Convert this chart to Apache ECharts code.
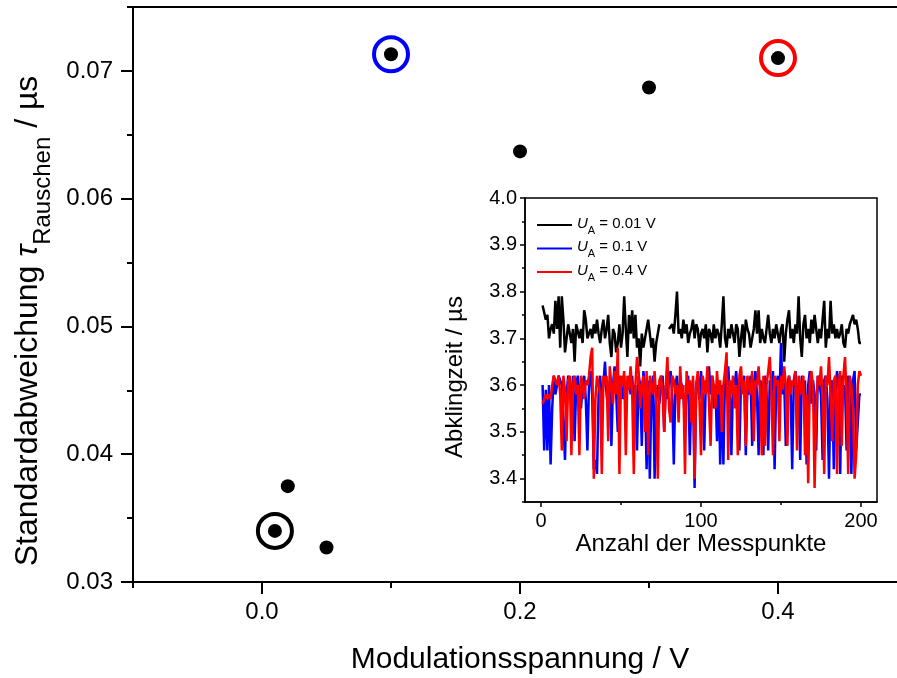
<!DOCTYPE html>
<html>
<head>
<meta charset="utf-8">
<script src="https://cdn.jsdelivr.net/npm/echarts@6/dist/echarts.min.js"></script>
<style>html,body{margin:0;padding:0;background:#fff}#c{width:897px;height:678px}</style>
</head>
<body>
<div id="c"></div>
<script>
// ---- Main plot data ----
const modVoltage = [0.01, 0.02, 0.05, 0.1, 0.2, 0.3, 0.4];
const stdDev = [0.0340, 0.0375, 0.0327, 0.0713, 0.0637, 0.0687, 0.0710];
const ringIndex = [0, 3, 6];
const mainXMajor = [0, 0.2, 0.4];
const mainXMinor = [-0.1, 0.1, 0.3, 0.5];
const mainYMajor = [0.03, 0.04, 0.05, 0.06, 0.07];
const mainYMinor = [0.035, 0.045, 0.055, 0.065, 0.075];

// ---- Inset data (decay time per measurement point, µs) ----
const insetNames = ['0.01', '0.1', '0.4'];
const black001 = [
3.77,3.77,3.74,3.75,3.70,3.72,3.73,3.71,3.78,3.72,
3.79,3.68,3.79,3.74,3.67,3.70,3.73,3.73,3.69,3.72,
3.65,3.73,3.73,3.70,3.72,3.69,3.76,3.74,3.70,3.71,
3.72,3.70,3.73,3.71,3.74,3.71,3.69,3.72,3.74,3.70,
3.72,3.75,3.69,3.66,3.72,3.71,3.67,3.69,3.73,3.68,
3.71,3.79,3.72,3.66,3.75,3.71,3.76,3.70,3.75,3.68,
3.70,3.64,3.71,3.68,3.70,3.72,3.74,3.71,3.68,3.70,
3.65,3.69,3.69,3.73,null,null,null,null,null,3.72,
3.72,3.73,3.71,3.75,3.80,3.71,3.72,3.70,3.74,3.71,
3.73,3.69,3.71,3.72,3.74,3.70,3.73,3.72,3.68,3.71,
3.72,3.70,3.73,3.67,3.72,3.71,3.69,3.73,3.70,3.72,
3.71,3.68,3.73,3.79,3.70,3.68,3.72,3.70,3.73,3.71,
3.69,3.73,3.72,3.66,3.70,3.73,3.68,3.74,3.72,3.71,
3.68,3.70,3.72,3.76,3.71,3.76,3.69,3.72,3.70,3.69,
3.72,3.75,3.71,3.69,3.72,3.70,3.73,3.71,3.69,3.72,
3.73,3.65,3.71,3.74,3.76,3.70,3.72,3.69,3.73,3.71,
3.79,3.70,3.66,3.73,3.75,3.70,3.72,3.69,3.74,3.71,
3.75,3.75,3.69,3.72,3.70,3.74,3.78,3.68,3.72,3.70,
3.78,3.71,3.73,3.70,3.72,3.70,3.71,3.73,3.69,3.68,
3.72,3.71,3.73,3.74,3.75,3.73,3.74,3.72,3.69,3.69];
const blue01 = [
3.60,3.46,3.59,3.46,3.60,3.43,3.55,3.62,3.58,3.60,
3.62,3.61,3.60,3.52,3.44,3.58,3.62,3.60,3.57,3.62,
3.48,3.60,3.62,3.58,3.55,3.60,3.62,3.57,3.46,3.60,
3.63,3.58,3.42,3.44,3.41,3.58,3.62,3.56,3.60,3.65,
3.58,3.55,3.61,3.47,3.60,3.64,3.58,3.50,3.62,3.59,
3.57,3.62,3.54,3.60,3.61,3.58,3.62,3.55,3.60,3.46,
3.62,3.60,3.47,3.63,3.59,3.42,3.61,3.40,3.58,3.62,
3.40,3.58,3.60,3.56,3.61,3.62,3.50,3.60,3.57,3.61,
3.63,3.58,3.43,3.60,3.62,3.55,3.61,3.60,3.58,3.52,
3.60,3.62,3.45,3.59,3.61,3.38,3.60,3.62,3.57,3.63,
3.58,3.46,3.61,3.60,3.64,3.58,3.62,3.55,3.60,3.48,
3.61,3.43,3.60,3.43,3.62,3.59,3.64,3.58,3.45,3.61,
3.60,3.63,3.57,3.46,3.61,3.59,3.62,3.45,3.60,3.58,
3.62,3.47,3.60,3.63,3.58,3.45,3.61,3.60,3.45,3.62,
3.58,3.46,3.61,3.59,3.63,3.42,3.60,3.62,3.57,3.69,
3.58,3.61,3.47,3.60,3.62,3.59,3.42,3.61,3.63,3.58,
3.60,3.44,3.62,3.58,3.61,3.43,3.60,3.63,3.56,3.61,
3.58,3.46,3.62,3.60,3.58,3.44,3.61,3.62,3.57,3.40,
3.60,3.61,3.42,3.58,3.63,3.60,3.41,3.62,3.58,3.60,
3.46,3.62,3.59,3.41,3.61,3.63,3.46,3.46,3.58,3.58];
const red04 = [
3.56,3.56,3.58,3.57,3.58,3.57,3.60,3.62,3.62,3.60,
3.62,3.58,3.46,3.62,3.59,3.48,3.61,3.62,3.45,3.60,
3.62,3.58,3.60,3.45,3.62,3.60,3.57,3.61,3.60,3.62,
3.66,3.68,3.40,3.57,3.62,3.60,3.58,3.41,3.62,3.60,
3.62,3.48,3.64,3.60,3.56,3.63,3.58,3.68,3.41,3.62,
3.60,3.63,3.45,3.62,3.59,3.64,3.58,3.41,3.60,3.66,
3.63,3.55,3.60,3.62,3.50,3.63,3.45,3.62,3.60,3.58,
3.63,3.57,3.40,3.61,3.62,3.58,3.50,3.60,3.66,3.55,
3.52,3.62,3.61,3.58,3.60,3.52,3.64,3.57,3.60,3.41,
3.63,3.58,3.61,3.52,3.62,3.40,3.60,3.63,3.57,3.45,
3.62,3.60,3.58,3.64,3.56,3.47,3.62,3.60,3.55,3.63,
3.58,3.61,3.50,3.60,3.63,3.67,3.44,3.61,3.58,3.62,
3.55,3.60,3.45,3.62,3.64,3.58,3.61,3.47,3.62,3.60,
3.58,3.63,3.48,3.61,3.60,3.64,3.58,3.45,3.62,3.47,
3.60,3.63,3.66,3.58,3.45,3.62,3.60,3.61,3.48,3.62,
3.59,3.64,3.60,3.47,3.62,3.58,3.61,3.60,3.63,3.46,
3.62,3.60,3.58,3.62,3.45,3.58,3.39,3.61,3.63,3.60,
3.38,3.55,3.62,3.60,3.64,3.57,3.41,3.62,3.60,3.66,
3.58,3.48,3.61,3.62,3.41,3.60,3.63,3.47,3.62,3.66,
3.58,3.41,3.62,3.60,3.55,3.40,3.45,3.60,3.63,3.62];
const insetXMajor = [0, 100, 200];
const insetXMinor = [50, 150];
const insetYMajor = [3.4, 3.5, 3.6, 3.7, 3.8, 3.9, 4.0];
const insetYMinor = [3.35, 3.45, 3.55, 3.65, 3.75, 3.85, 3.95];

const FONT = '"Liberation Sans", Arial, sans-serif';
const toPairs = arr => arr.map((v, k) => [k + 1, v]);
const insetColors = ['#000000', '#0000ff', '#ff0000'];
const ringColors = ['#000000', '#0000ff', '#ff0000'];

const chart = echarts.init(document.getElementById('c'), null, {renderer: 'canvas'});

function axisBase(extra) {
  return Object.assign({
    type: 'value',
    splitLine: {show: false},
    axisLine: {show: true, onZero: false, lineStyle: {color: '#000', width: 2}},
  }, extra);
}
const hiddenLine = {show: false, onZero: false};

const option = {
  animation: false,
  backgroundColor: '#fff',
  textStyle: {fontFamily: FONT, color: '#000'},
  grid: [
    {left: 133, top: 7, width: 774, height: 575, outerBoundsMode: 'none', containLabel: false,
      show: true, borderColor: '#000', borderWidth: 2, backgroundColor: 'transparent'},
    {left: 525, top: 198, width: 352, height: 304, outerBoundsMode: 'none', containLabel: false,
      show: true, borderColor: '#000', borderWidth: 1.5, backgroundColor: '#fff'}
  ],
  xAxis: [
    axisBase({gridIndex: 0, position: 'bottom', min: -0.1, max: 0.5,
      axisTick: {show: true, length: 12, lineStyle: {color: '#000', width: 2}, customValues: mainXMajor},
      axisLabel: {customValues: mainXMajor, formatter: v => v.toFixed(1), fontSize: 24, color: '#000', margin: 18, fontFamily: FONT},
      name: 'Modulationsspannung / V', nameLocation: 'middle', nameGap: 63,
      nameTextStyle: {fontSize: 30, color: '#000', fontFamily: FONT}}),
    axisBase({gridIndex: 0, position: 'bottom', min: -0.1, max: 0.5, axisLine: hiddenLine,
      axisTick: {show: true, length: 6, lineStyle: {color: '#000', width: 2}, customValues: mainXMinor},
      axisLabel: {show: false}}),
    axisBase({gridIndex: 1, position: 'bottom', min: -10, max: 210,
      axisLine: {show: true, onZero: false, lineStyle: {color: '#000', width: 1.5}},
      axisTick: {show: true, length: 5, lineStyle: {color: '#000', width: 1.5}, customValues: insetXMajor},
      axisLabel: {customValues: insetXMajor, fontSize: 20, color: '#000', margin: 9, fontFamily: FONT},
      name: 'Anzahl der Messpunkte', nameLocation: 'middle', nameGap: 30,
      nameTextStyle: {fontSize: 24, color: '#000', fontFamily: FONT}}),
    axisBase({gridIndex: 1, position: 'bottom', min: -10, max: 210, axisLine: hiddenLine,
      axisTick: {show: true, length: 3, lineStyle: {color: '#000', width: 1.5}, customValues: insetXMinor},
      axisLabel: {show: false}})
  ],
  yAxis: [
    axisBase({gridIndex: 0, position: 'left', min: 0.03, max: 0.075,
      axisTick: {show: true, length: 12, lineStyle: {color: '#000', width: 2}, customValues: mainYMajor},
      axisLabel: {customValues: mainYMajor, formatter: v => v.toFixed(2), fontSize: 24, color: '#000', margin: 20, fontFamily: FONT}}),
    axisBase({gridIndex: 0, position: 'left', min: 0.03, max: 0.075, axisLine: hiddenLine,
      axisTick: {show: true, length: 6, lineStyle: {color: '#000', width: 2}, customValues: mainYMinor},
      axisLabel: {show: false}}),
    axisBase({gridIndex: 1, position: 'left', min: 3.35, max: 4.0,
      axisLine: {show: true, onZero: false, lineStyle: {color: '#000', width: 1.5}},
      axisTick: {show: true, length: 5, lineStyle: {color: '#000', width: 1.5}, customValues: insetYMajor},
      axisLabel: {customValues: insetYMajor, formatter: v => v.toFixed(1), fontSize: 20, color: '#000', margin: 8, fontFamily: FONT}}),
    axisBase({gridIndex: 1, position: 'left', min: 3.35, max: 4.0, axisLine: hiddenLine,
      axisTick: {show: true, length: 3, lineStyle: {color: '#000', width: 1.5}, customValues: insetYMinor},
      axisLabel: {show: false}})
  ],
  legend: {
    orient: 'vertical', left: 532, top: 211, padding: 5, itemGap: 3.5,
    itemWidth: 35, itemHeight: 2, icon: 'rect',
    data: insetNames,
    formatter: name => '{u|U}{s|A}{t| = ' + name + ' V}',
    textStyle: {
      fontFamily: FONT, color: '#000', fontSize: 15,
      rich: {
        u: {fontFamily: FONT, fontSize: 15, fontStyle: 'italic', lineHeight: 18, verticalAlign: 'top', color: '#000'},
        s: {fontFamily: FONT, fontSize: 11, lineHeight: 11, padding: [9, 0, 0, 0], verticalAlign: 'top', color: '#000'},
        t: {fontFamily: FONT, fontSize: 15, lineHeight: 18, verticalAlign: 'top', color: '#000'}
      }
    }
  },
  graphic: [
    {type: 'text', x: 29, y: 321, rotation: Math.PI / 2, z: 10,
      style: {
        text: '{a|Standardabweichung }{t|τ}{s|Rauschen}{a| / µs}',
        align: 'center', verticalAlign: 'middle',
        rich: {
          a: {fontFamily: FONT, fontSize: 32, lineHeight: 34, verticalAlign: 'top', fill: '#000'},
          t: {fontFamily: FONT, fontSize: 32, fontStyle: 'italic', lineHeight: 34, verticalAlign: 'top', fill: '#000'},
          s: {fontFamily: FONT, fontSize: 24, lineHeight: 24, padding: [19, 0, 0, 0], verticalAlign: 'top', fill: '#000'}
        }
      }},
    {type: 'text', x: 455, y: 377, rotation: Math.PI / 2, z: 10,
      style: {text: 'Abklingzeit / µs', align: 'center', verticalAlign: 'middle',
        font: '24px ' + FONT, fill: '#000'}}
  ],
  series: [
    {type: 'scatter', xAxisIndex: 0, yAxisIndex: 0, symbol: 'circle', symbolSize: 34,
      data: ringIndex.map((k, j) => ({value: [modVoltage[k], stdDev[k]],
        itemStyle: {color: 'rgba(0,0,0,0)', borderColor: ringColors[j], borderWidth: 4, opacity: 1}})),
      silent: true},
    {type: 'scatter', xAxisIndex: 0, yAxisIndex: 0, symbol: 'circle', symbolSize: 14,
      itemStyle: {color: '#000', opacity: 1},
      data: modVoltage.map((x, k) => [x, stdDev[k]])},
    {type: 'line', name: insetNames[0], xAxisIndex: 2, yAxisIndex: 2, symbol: 'none', connectNulls: false,
      lineStyle: {color: insetColors[0], width: 2.5}, itemStyle: {color: insetColors[0]}, data: toPairs(black001)},
    {type: 'line', name: insetNames[1], xAxisIndex: 2, yAxisIndex: 2, symbol: 'none',
      lineStyle: {color: insetColors[1], width: 2.5}, itemStyle: {color: insetColors[1]}, data: toPairs(blue01)},
    {type: 'line', name: insetNames[2], xAxisIndex: 2, yAxisIndex: 2, symbol: 'none',
      lineStyle: {color: insetColors[2], width: 2.5}, itemStyle: {color: insetColors[2]}, data: toPairs(red04)}
  ]
};
chart.setOption(option);
</script>
</body>
</html>
